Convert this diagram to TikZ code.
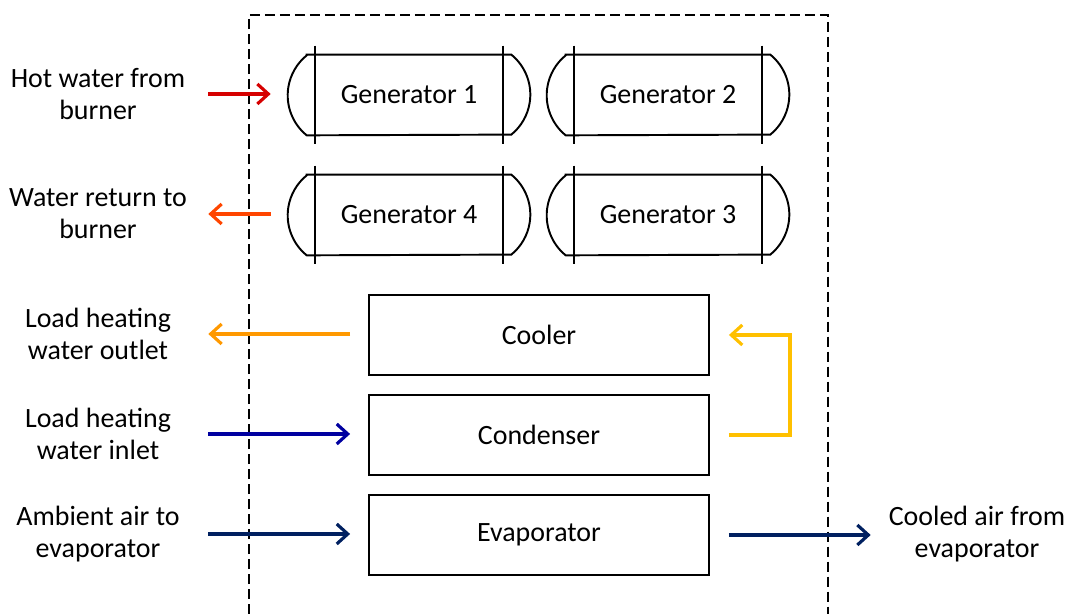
\documentclass[tikz,border=0pt]{standalone}
\usepackage{fontspec}
\setmainfont{Carlito}
\usepackage{xcolor}
\usepackage{tikz}
\usetikzlibrary{arrows.meta,positioning,calc}

\definecolor{hotred}{RGB}{214,0,0}
\definecolor{retorange}{RGB}{255,69,0}
\definecolor{outorange}{RGB}{255,153,0}
\definecolor{loopyellow}{RGB}{255,192,0}
\definecolor{inblue}{RGB}{0,0,160}
\definecolor{airnavy}{RGB}{0,32,96}

\begin{document}
\begin{tikzpicture}[
  x=0.02cm, y=0.02cm,
  font=\fontsize{15.9}{18.1}\selectfont,
  vessel/.style={line width=1.1pt},
  gen/.style={minimum width=4.84cm, minimum height=1.6cm, inner sep=0pt},
  unit/.style={draw, line width=1.1pt, minimum width=6.8cm, minimum height=1.6cm, inner sep=0pt},
  lbl/.style={align=center, minimum width=3.6cm, inner sep=0pt},
  arr/.style={-{Straight Barb[length=2.2mm, width=4mm]}, line width=1.8pt},
  gap/.style={shorten <=#1},
  gap/.default=0.4cm
]
  \useasboundingbox (0,0) rectangle (1071,614);

  % package boundary, open at the bottom
  \draw[line width=0.85pt, dash pattern=on 0.2cm off 0.1cm]
    (249,0) -- (249,599) -- (828,599) -- (828,0);

  % generators
  \node[gen] (gen1) at (409,519) {Generator 1};
  \node[gen] (gen2) at (668,519) {Generator 2};
  \node[gen] (gen4) at (409,399) {Generator 4};
  \node[gen] (gen3) at (668,399) {Generator 3};
  \foreach \g in {gen1,gen2,gen3,gen4} {
    \draw[vessel] ($(\g.north west)+(19,0)$) -- ($(\g.north east)+(-19,0)$)
      arc[start angle=50.8, end angle=-50.8, radius=1.032cm]
      -- ($(\g.south west)+(19,0)$)
      arc[start angle=230.8, end angle=129.2, radius=1.032cm] -- cycle;
    \draw[vessel] ($(\g.north west)+(27,9)$) -- ($(\g.south west)+(27,-9)$);
    \draw[vessel] ($(\g.north east)+(-27,9)$) -- ($(\g.south east)+(-27,-9)$);
  }

  % heat exchangers
  \node[unit] (cooler) at (539,279) {Cooler};
  \node[unit] (cond) at (539,179) {Condenser};
  \node[unit] (evap) at (539,79) {Evaporator};

  % stream labels
  \node[lbl] (hot) at (98,520) {Hot water from\\burner};
  \node[lbl] (ret) at (98,400) {Water return to\\burner};
  \node[lbl] (outl) at (98,280) {Load heating\\water outlet};
  \node[lbl] (inl) at (98,180) {Load heating\\water inlet};
  \node[lbl] (amb) at (98,80) {Ambient air to\\evaporator};
  \node[lbl] (cooled) at (977,80) {Cooled air from\\evaporator};

  \draw[arr, hotred, gap, shorten >=0.34cm] (hot.east) -- (hot.east -| gen1.west);
  \draw[arr, retorange, gap=0.34cm, shorten >=0.4cm] (ret.east -| gen4.west) -- (ret.east);
  \draw[arr, outorange, gap=0.36cm, shorten >=0.4cm] (outl.east -| cooler.west) -- (outl.east);
  \draw[arr, inblue, gap, shorten >=0.36cm] (inl.east) -- (inl.east -| cond.west);
  \draw[arr, airnavy, gap, shorten >=0.36cm] (amb.east) -- (amb.east -| evap.west);
  \draw[arr, airnavy, gap=0.38cm, shorten >=0.32cm] (evap.east) -- (evap.east -| cooled.west);

  % condenser water on to the cooler
  \coordinate (turn) at (790,179);
  \draw[arr, loopyellow, gap=0.38cm, shorten >=0.38cm] (cond.east) -- (turn) |- (cooler.east);
\end{tikzpicture}
\end{document}
